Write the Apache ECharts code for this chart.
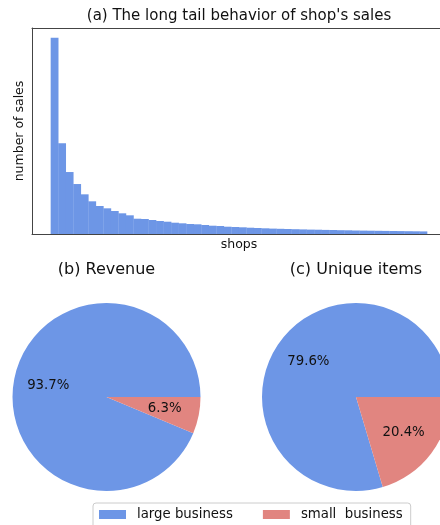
<!DOCTYPE html>
<html>
<head>
<meta charset="utf-8">
<script src="https://cdn.jsdelivr.net/npm/echarts@6/dist/echarts.min.js"></script>
<style>html,body{margin:0;padding:0;background:#fff}#c{width:440px;height:525px}</style>
</head>
<body>
<div id="c"></div>
<script>
// Shop sales (rank-ordered), arbitrary units
var shopSales = [1963, 907, 620, 500, 397, 327, 280, 257, 230, 207,
                 187, 153, 150, 140, 130, 123, 113, 107, 100, 97,
                 90, 83, 80, 73, 70, 67, 63, 60, 57, 54,
                 52, 50, 48, 46, 44, 43, 41, 40, 38, 37,
                 35, 34, 33, 32, 31, 30, 29, 28, 27, 26];
var pieNames = ['large business', 'small  business'];
var revenueShare = [93.7, 6.3];
var uniqueItemsShare = [79.6, 20.4];
var titles = ["(a) The long tail behavior of shop's sales", '(b) Revenue', '(c) Unique items'];

var BLUE = '#6D96E6', RED = '#E18580', FONT = 'DejaVu Sans', TXT = '#111', FRAME = '#444';
var chart = echarts.init(document.getElementById('c'), null, {renderer: 'canvas'});

// the original frame runs past the right edge of the picture (to ~446px)
var gridLeft = 32, gridRightEdge = 440, fullRightEdge = 446;
var xMin = -3, fullMax = shopSales.length + 2;
var pxPerUnit = (fullRightEdge - gridLeft) / (fullMax - xMin);
var xMax = xMin + (gridRightEdge - gridLeft) / pxPerUnit;

function pieSeries(vals, cx) {
  var data = vals.map(function (v, i) { return {name: pieNames[i], value: v, itemStyle: {color: i === 0 ? BLUE : RED}}; });
  var labelData = vals.map(function (v, i) { return {name: pieNames[i], value: v}; });
  return [
    {type: 'pie', center: [cx, 397], radius: [0, 94], startAngle: 0, clockwise: false,
     label: {show: false}, labelLine: {show: false}, silent: true, emphasis: {disabled: true}, data: data},
    {type: 'pie', center: [cx, 397], radius: [18.8, 94], startAngle: 0, clockwise: false,
     itemStyle: {color: 'rgba(0,0,0,0)'}, silent: true, emphasis: {disabled: true},
     label: {show: true, position: 'inside', color: TXT, fontFamily: FONT, fontSize: 13.3,
             formatter: function (p) { return p.value.toFixed(1) + '%'; }},
     labelLine: {show: false}, data: labelData}
  ];
}

var option = {
  animation: false,
  backgroundColor: '#fff',
  title: [
    {text: titles[0], left: 239, top: 9, textAlign: 'center', padding: 0,
     textStyle: {fontFamily: FONT, fontSize: 15, fontWeight: 'normal', color: TXT}},
    {text: titles[1], left: 106.5, top: 262, textAlign: 'center', padding: 0,
     textStyle: {fontFamily: FONT, fontSize: 16, fontWeight: 'normal', color: TXT}},
    {text: titles[2], left: 356, top: 262, textAlign: 'center', padding: 0,
     textStyle: {fontFamily: FONT, fontSize: 16, fontWeight: 'normal', color: TXT}}
  ],
  grid: {left: gridLeft, top: 28, right: 440 - gridRightEdge, bottom: 525 - 234, containLabel: false},
  xAxis: [
    {type: 'value', min: xMin, max: xMax, position: 'bottom',
     axisLine: {show: true, onZero: false, lineStyle: {color: FRAME, width: 1}},
     axisTick: {show: false}, axisLabel: {show: false}, splitLine: {show: false},
     name: 'shops', nameLocation: 'middle', nameGap: 4,
     nameTextStyle: {fontFamily: FONT, fontSize: 12.5, color: TXT, padding: [0, 0, 0, 6]}},
    {type: 'value', min: xMin, max: xMax, position: 'top',
     axisLine: {show: true, onZero: false, lineStyle: {color: FRAME, width: 1}},
     axisTick: {show: false}, axisLabel: {show: false}, splitLine: {show: false}}
  ],
  yAxis: {type: 'value', min: 0, max: function (v) { return v.max * 1.05; },
          axisLine: {show: true, onZero: false, lineStyle: {color: FRAME, width: 1}},
          axisTick: {show: false}, axisLabel: {show: false}, splitLine: {show: false},
          name: 'number of sales', nameLocation: 'middle', nameGap: 6, nameRotate: 90,
          nameTextStyle: {fontFamily: FONT, fontSize: 12.5, color: TXT}},
  legend: {left: 93, top: 503, orient: 'horizontal', itemWidth: 27, itemHeight: 9, itemGap: 30,
           icon: 'rect', padding: [5, 8, 9, 6], borderColor: '#ccc', borderWidth: 1, borderRadius: 3,
           backgroundColor: '#fff',
           textStyle: {fontFamily: FONT, fontSize: 13.3, color: TXT, padding: [0, 0, 0, 6]},
           selectedMode: false,
           data: [{name: pieNames[0], itemStyle: {color: BLUE}}, {name: pieNames[1], itemStyle: {color: RED}}]},
  series: [
    {type: 'bar', barWidth: pxPerUnit + 0.3, silent: true, xAxisIndex: 0,
     itemStyle: {color: BLUE},
     data: shopSales.map(function (v, i) { return [i, v]; })}
  ].concat(pieSeries(revenueShare, 106.5)).concat(pieSeries(uniqueItemsShare, 356))
};
chart.setOption(option);
</script>
</body>
</html>
